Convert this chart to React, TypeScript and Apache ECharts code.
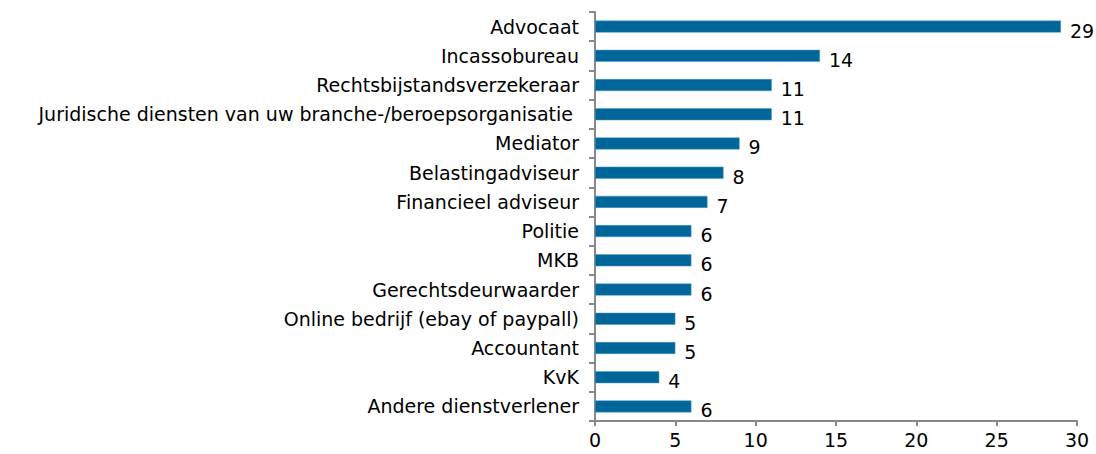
import React, { useEffect, useRef } from "react";
import * as echarts from "echarts";

const categories = [
  "Advocaat",
  "Incassobureau",
  "Rechtsbijstandsverzekeraar",
  "Juridische diensten van uw branche-/beroepsorganisatie ",
  "Mediator",
  "Belastingadviseur",
  "Financieel adviseur",
  "Politie",
  "MKB",
  "Gerechtsdeurwaarder",
  "Online bedrijf (ebay of paypall)",
  "Accountant",
  "KvK",
  "Andere dienstverlener",
];
const values = [29, 14, 11, 11, 9, 8, 7, 6, 6, 6, 5, 5, 4, 6];
const xTicks = [0, 5, 10, 15, 20, 25, 30];

export default function App() {
  const ref = useRef<HTMLDivElement>(null);
  useEffect(() => {
    if (!ref.current) return;
    const chart = echarts.init(ref.current, undefined, { renderer: "svg" });
    const font = "DejaVu Sans";
    chart.setOption({
      animation: false,
      grid: { left: 595, right: 19, top: 12, bottom: 33 },
      xAxis: {
        type: "value",
        min: xTicks[0],
        max: xTicks[xTicks.length - 1],
        interval: 5,
        axisLine: { show: true, lineStyle: { color: "#888", width: 2 } },
        axisTick: { show: true, length: 5, lineStyle: { color: "#888", width: 2 } },
        splitLine: { show: false },
        axisLabel: { color: "#000", fontFamily: font, fontSize: 19, margin: 9 },
      },
      yAxis: {
        type: "category",
        data: categories.slice().reverse(),
        axisLine: { show: true, lineStyle: { color: "#888", width: 2 } },
        axisTick: { show: true, length: 6, lineStyle: { color: "#888", width: 2 } },
        axisLabel: { color: "#000", fontFamily: font, fontSize: 19, margin: 16 },
      },
      series: [
        {
          type: "bar",
          data: values.slice().reverse(),
          barWidth: 12,
          itemStyle: { color: "#006699", borderColor: "#4a9acb", borderWidth: 0.5 },
          label: {
            show: true,
            position: "right",
            distance: 9,
            offset: [0, 4],
            color: "#000",
            fontFamily: font,
            fontSize: 19,
          },
        },
      ],
    });
    return () => chart.dispose();
  }, []);
  return (
    <div
      ref={ref}
      style={{ position: "absolute", left: 0, top: 0, width: 1096, height: 454 }}
    />
  );
}
